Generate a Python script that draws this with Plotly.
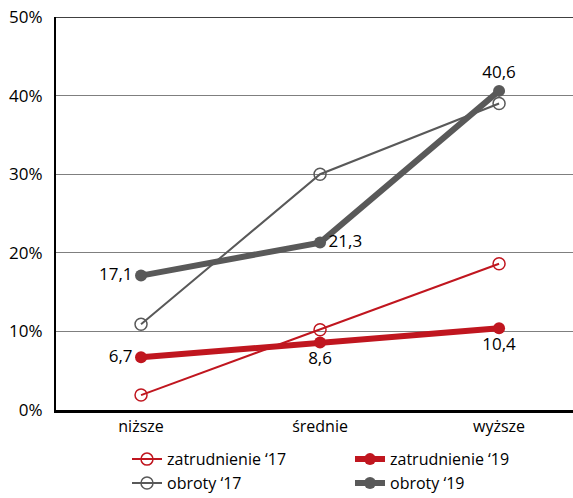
import plotly.graph_objects as go

categories = ["niższe", "średnie", "wyższe"]
zatr_17 = [1.9, 10.2, 18.6]
zatr_19 = [6.7, 8.6, 10.4]
obroty_17 = [10.9, 30.0, 39.0]
obroty_19 = [17.1, 21.3, 40.6]
y_ticks = [0, 10, 20, 30, 40, 50]

RED = "#c0161f"
GRAY = "#595959"
FONT = "Open Sans"
xs = list(range(len(categories)))


def lab(vals):
    return [f"{v:.1f}".replace(".", ",") for v in vals]


fig = go.Figure()
fig.add_trace(go.Scatter(
    x=xs, y=zatr_17, name="zatrudnienie ‘17", mode="lines+markers",
    line=dict(color=RED, width=2),
    marker=dict(symbol="circle-open", size=12, color=RED, line=dict(width=1.5)),
))
fig.add_trace(go.Scatter(
    x=xs, y=zatr_19, name="zatrudnienie ‘19", mode="lines+markers+text",
    line=dict(color=RED, width=6),
    marker=dict(symbol="circle", size=12, color=RED),
    text=lab(zatr_19), textposition=["middle left", "bottom center", "bottom center"],
    textfont=dict(size=17, color="#000000", family=FONT),
))
fig.add_trace(go.Scatter(
    x=xs, y=obroty_17, name="obroty ‘17", mode="lines+markers",
    line=dict(color=GRAY, width=2),
    marker=dict(symbol="circle-open", size=12, color=GRAY, line=dict(width=1.5)),
))
fig.add_trace(go.Scatter(
    x=xs, y=obroty_19, name="obroty ‘19", mode="lines+markers+text",
    line=dict(color=GRAY, width=6),
    marker=dict(symbol="circle", size=12, color=GRAY),
    text=lab(obroty_19), textposition=["middle left", "middle right", "top center"],
    textfont=dict(size=17, color="#000000", family=FONT),
))

fig.add_shape(type="line", xref="paper", yref="y", x0=0, x1=1, y0=50, y1=50,
              line=dict(color="#000000", width=1.5), layer="below")

fig.update_layout(
    width=573, height=498,
    margin=dict(l=56, r=0, t=17, b=88),
    paper_bgcolor="white", plot_bgcolor="white",
    font=dict(family=FONT, size=16, color="#000000"),
    xaxis=dict(
        range=[-0.475, 2.413], tickmode="array", tickvals=xs, ticktext=categories,
        showgrid=False, zeroline=False, showline=True, linecolor="#000000", linewidth=3,
        ticks="", tickfont=dict(size=16), fixedrange=True,
    ),
    yaxis=dict(
        range=[0, 50], tickmode="array", tickvals=y_ticks,
        ticktext=[f"{t}%" for t in y_ticks],
        showgrid=True, gridcolor="#7f7f7f", gridwidth=1.2, zeroline=False,
        showline=True, linecolor="#000000", linewidth=2, ticks="", ticklabelstandoff=8,
        tickfont=dict(size=17),
    ),
    showlegend=True,
    legend=dict(
        orientation="h", x=0.14, xanchor="left",
        yref="container", y=0.112, yanchor="top",
        entrywidth=178, entrywidthmode="pixels", tracegroupgap=0,
        font=dict(size=16), bgcolor="rgba(0,0,0,0)",
    ),
)

fig.write_html("out.html")
